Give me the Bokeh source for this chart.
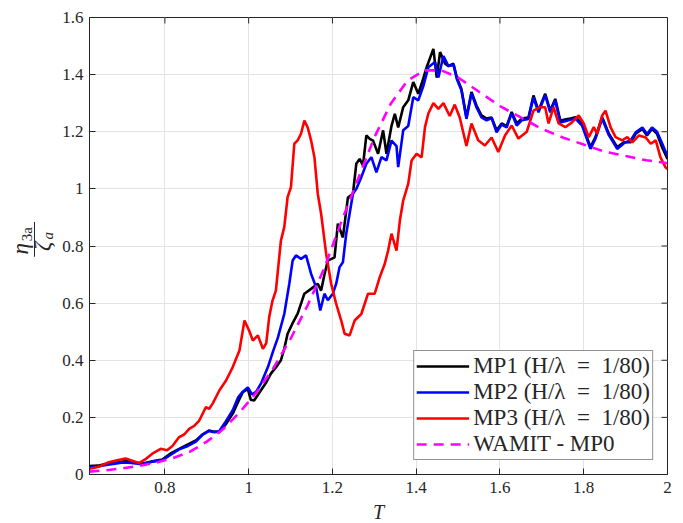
import math
from bokeh.plotting import figure
from bokeh.layouts import row
from bokeh.models import (LinearAxis, FixedTicker, CustomJSTickFormatter, Legend, LegendItem, Range1d)
from bokeh.core.properties import value
from bokeh.embed import file_html
from bokeh.resources import INLINE

# ---------------- data ----------------
t_mp1 = [0.620, 0.640, 0.658, 0.680, 0.706, 0.725, 0.746, 0.770, 0.794, 0.815, 0.834, 0.855, 0.874,
         0.890, 0.905, 0.918, 0.930, 0.945, 0.962, 0.975, 0.986, 0.998, 1.005, 1.013, 1.029, 1.041,
         1.053, 1.065, 1.077, 1.085, 1.093, 1.105, 1.117, 1.133, 1.149, 1.165, 1.173, 1.181, 1.189,
         1.205, 1.213, 1.225, 1.237, 1.249, 1.257, 1.265, 1.273, 1.281, 1.289, 1.297, 1.309, 1.321,
         1.329, 1.341, 1.349, 1.357, 1.369, 1.381, 1.393, 1.405, 1.413, 1.425, 1.441, 1.449, 1.457,
         1.469, 1.477, 1.489, 1.497, 1.508, 1.520, 1.532, 1.544, 1.556, 1.568, 1.580, 1.592, 1.604,
         1.616, 1.628, 1.640, 1.652, 1.668, 1.680, 1.692, 1.708, 1.720, 1.732, 1.744, 1.764, 1.780,
         1.796, 1.816, 1.828, 1.844, 1.860, 1.880, 1.896, 1.912, 1.924, 1.940, 1.951, 1.963, 1.975,
         1.987, 2.000]
v_mp1 = [0.030, 0.031, 0.037, 0.040, 0.047, 0.044, 0.038, 0.046, 0.052, 0.075, 0.090, 0.105, 0.119,
         0.140, 0.154, 0.150, 0.148, 0.175, 0.213, 0.255, 0.288, 0.300, 0.262, 0.259, 0.294, 0.320,
         0.353, 0.375, 0.400, 0.440, 0.493, 0.530, 0.563, 0.633, 0.650, 0.668, 0.644, 0.700, 0.749,
         0.760, 0.878, 0.830, 0.970, 0.983, 1.088, 1.105, 1.082, 1.187, 1.175, 1.169, 1.123, 1.205,
         1.123, 1.220, 1.263, 1.215, 1.286, 1.310, 1.374, 1.333, 1.368, 1.426, 1.490, 1.390, 1.479,
         1.438, 1.430, 1.438, 1.390, 1.350, 1.251, 1.339, 1.292, 1.257, 1.246, 1.250, 1.205, 1.229,
         1.220, 1.269, 1.229, 1.246, 1.250, 1.327, 1.274, 1.333, 1.274, 1.315, 1.239, 1.245, 1.251,
         1.229, 1.146, 1.181, 1.251, 1.193, 1.146, 1.163, 1.163, 1.193, 1.210, 1.187, 1.210, 1.193,
         1.146, 1.105]

t_mp2 = [0.620, 0.640, 0.660, 0.680, 0.700, 0.720, 0.745, 0.770, 0.794, 0.815, 0.834, 0.855, 0.874,
         0.890, 0.905, 0.918, 0.930, 0.945, 0.962, 0.975, 0.986, 0.998, 1.008, 1.018, 1.030, 1.046,
         1.058, 1.070, 1.085, 1.097, 1.105, 1.113, 1.125, 1.137, 1.149, 1.161, 1.171, 1.181, 1.189,
         1.201, 1.209, 1.217, 1.225, 1.233, 1.241, 1.249, 1.257, 1.269, 1.281, 1.293, 1.305, 1.317,
         1.329, 1.341, 1.353, 1.357, 1.369, 1.381, 1.393, 1.405, 1.417, 1.429, 1.445, 1.453, 1.465,
         1.477, 1.489, 1.497, 1.508, 1.520, 1.532, 1.544, 1.556, 1.568, 1.580, 1.592, 1.604, 1.616,
         1.628, 1.640, 1.652, 1.668, 1.680, 1.692, 1.708, 1.720, 1.732, 1.744, 1.764, 1.780, 1.796,
         1.816, 1.828, 1.844, 1.860, 1.880, 1.896, 1.912, 1.924, 1.940, 1.951, 1.963, 1.975, 1.987,
         2.000]
v_mp2 = [0.025, 0.028, 0.033, 0.038, 0.042, 0.040, 0.036, 0.045, 0.050, 0.070, 0.088, 0.100, 0.115,
         0.140, 0.152, 0.148, 0.152, 0.185, 0.225, 0.270, 0.290, 0.305, 0.280, 0.290, 0.320, 0.376,
         0.430, 0.480, 0.562, 0.668, 0.749, 0.767, 0.755, 0.767, 0.703, 0.656, 0.574, 0.633, 0.610,
         0.633, 0.668, 0.726, 0.743, 0.843, 0.913, 0.983, 1.000, 1.041, 1.088, 1.111, 1.058, 1.111,
         1.100, 1.169, 1.150, 1.076, 1.205, 1.220, 1.321, 1.310, 1.360, 1.426, 1.444, 1.390, 1.465,
         1.430, 1.435, 1.385, 1.345, 1.245, 1.335, 1.285, 1.250, 1.240, 1.248, 1.198, 1.225, 1.215,
         1.265, 1.222, 1.240, 1.245, 1.320, 1.268, 1.328, 1.268, 1.310, 1.232, 1.240, 1.246, 1.222,
         1.140, 1.176, 1.246, 1.188, 1.140, 1.160, 1.170, 1.198, 1.215, 1.192, 1.215, 1.200, 1.160,
         1.115]

t_mp3 = [0.620, 0.640, 0.666, 0.686, 0.706, 0.722, 0.738, 0.755, 0.770, 0.790, 0.805, 0.818, 0.834,
         0.846, 0.858, 0.870, 0.882, 0.898, 0.906, 0.914, 0.930, 0.946, 0.962, 0.978, 0.990, 1.001,
         1.010, 1.022, 1.034, 1.042, 1.049, 1.057, 1.065, 1.077, 1.085, 1.093, 1.101, 1.109, 1.117,
         1.125, 1.133, 1.141, 1.149, 1.157, 1.165, 1.173, 1.185, 1.197, 1.209, 1.221, 1.229, 1.241,
         1.253, 1.269, 1.285, 1.301, 1.313, 1.325, 1.333, 1.341, 1.353, 1.361, 1.369, 1.381, 1.389,
         1.401, 1.413, 1.421, 1.429, 1.441, 1.453, 1.465, 1.480, 1.492, 1.504, 1.512, 1.520, 1.532,
         1.548, 1.564, 1.580, 1.596, 1.612, 1.628, 1.644, 1.664, 1.680, 1.696, 1.708, 1.716, 1.728,
         1.740, 1.756, 1.772, 1.788, 1.800, 1.812, 1.824, 1.832, 1.844, 1.852, 1.864, 1.876, 1.892,
         1.904, 1.916, 1.932, 1.948, 1.960, 1.972, 1.983, 1.995, 2.000]
v_mp3 = [0.020, 0.026, 0.043, 0.050, 0.056, 0.048, 0.040, 0.055, 0.073, 0.090, 0.085, 0.100, 0.131,
         0.140, 0.160, 0.170, 0.189, 0.236, 0.230, 0.248, 0.294, 0.329, 0.376, 0.434, 0.539, 0.504,
         0.469, 0.487, 0.440, 0.460, 0.551, 0.609, 0.644, 0.819, 0.866, 0.971, 1.006, 1.158, 1.170,
         1.193, 1.239, 1.215, 1.170, 1.111, 0.983, 0.913, 0.773, 0.668, 0.597, 0.539, 0.493, 0.487,
         0.539, 0.562, 0.633, 0.633, 0.691, 0.738, 0.784, 0.843, 0.784, 0.889, 0.959, 1.018, 1.099,
         1.123, 1.110, 1.216, 1.264, 1.300, 1.280, 1.300, 1.255, 1.295, 1.250, 1.200, 1.150, 1.229,
         1.170, 1.152, 1.180, 1.129, 1.187, 1.222, 1.176, 1.200, 1.274, 1.286, 1.286, 1.229, 1.286,
         1.229, 1.216, 1.233, 1.257, 1.229, 1.181, 1.216, 1.193, 1.257, 1.274, 1.216, 1.181, 1.170,
         1.181, 1.163, 1.187, 1.180, 1.158, 1.170, 1.111, 1.076, 1.070]

t_wamit = [0.62, 0.66, 0.70, 0.74, 0.78, 0.82, 0.86, 0.90, 0.94, 0.98, 1.02, 1.06, 1.10, 1.14, 1.18,
           1.22, 1.26, 1.30, 1.34, 1.38, 1.42, 1.46, 1.50, 1.55, 1.60, 1.65, 1.70, 1.75, 1.80, 1.85,
           1.90, 1.95, 2.00]
v_wamit = [0.010, 0.015, 0.022, 0.030, 0.042, 0.058, 0.080, 0.115, 0.160, 0.220, 0.290, 0.375, 0.475,
           0.590, 0.720, 0.880, 1.030, 1.180, 1.300, 1.380, 1.415, 1.415, 1.390, 1.340, 1.290, 1.250,
           1.210, 1.180, 1.155, 1.130, 1.115, 1.100, 1.090]

x_ticks = [0.8, 1.0, 1.2, 1.4, 1.6, 1.8, 2.0]
y_ticks = [0, 0.2, 0.4, 0.6, 0.8, 1.0, 1.2, 1.4, 1.6]
labels = ["MP1 (H/λ\u2002=\u20021/80)", "MP2 (H/λ\u2002=\u20021/80)",
          "MP3 (H/λ\u2002=\u20021/80)", "WAMIT - MP0"]
x_title = "T"

# ---------------- style ----------------
FONT = "Liberation Serif"
AX = "#262626"
X0, X1, Y0, Y1 = 0.62, 2.0, 0.0, 1.6
STRIP = 58

# ---------------- main figure ----------------
p = figure(frame_width=578, frame_height=457, output_backend="svg", toolbar_location=None,
           x_range=Range1d(X0, X1), y_range=Range1d(Y0, Y1),
           min_border_left=89 - STRIP, min_border_right=16, min_border_top=17, min_border_bottom=49,
           x_axis_location=None, y_axis_location=None)
p.background_fill_color = "white"
p.border_fill_color = "white"
p.outline_line_color = AX
p.outline_line_width = 1

fmt = CustomJSTickFormatter(code="return (Math.round(tick*10)/10).toString();")

def make_axis(ticks):
    ax = LinearAxis(ticker=FixedTicker(ticks=ticks), formatter=fmt)
    ax.axis_line_color = AX
    ax.major_tick_line_color = AX
    ax.major_tick_in = 6
    ax.major_tick_out = 0
    ax.minor_tick_line_color = None
    ax.major_label_text_font = FONT
    ax.major_label_text_font_size = "17px"
    ax.major_label_text_color = AX
    return ax

xb = make_axis(x_ticks)
xb.major_label_standoff = 7
xb.axis_label = x_title
xb.axis_label_text_font = FONT
xb.axis_label_text_font_style = "italic"
xb.axis_label_text_font_size = "20px"
xb.axis_label_text_color = AX
xb.axis_label_standoff = 5
yl = make_axis(y_ticks)
yl.major_label_standoff = 6
p.add_layout(xb, "below")
p.add_layout(yl, "left")

p.xgrid.ticker = FixedTicker(ticks=x_ticks)
p.ygrid.ticker = FixedTicker(ticks=y_ticks)
for g in (p.xgrid, p.ygrid):
    g.grid_line_color = "#e3e3e3"
    g.grid_line_width = 1

# inward ticks on the top and right edges of the box
p.ray(x=x_ticks, y=[Y1] * len(x_ticks), length=6, length_units="screen",
      angle=-math.pi / 2, line_color=AX, line_width=1)
p.ray(x=[X1] * len(y_ticks), y=y_ticks, length=6, length_units="screen",
      angle=math.pi, line_color=AX, line_width=1)

LW = 2.6
r1 = p.line(t_mp1, v_mp1, line_color="#000000", line_width=LW)
r2 = p.line(t_mp2, v_mp2, line_color="#0000ff", line_width=LW)
r3 = p.line(t_mp3, v_mp3, line_color="#ff0000", line_width=LW)
r4 = p.line(t_wamit, v_wamit, line_color="#ff00ff", line_width=LW, line_dash="10 7")

legend = Legend(items=[LegendItem(label=labels[0], renderers=[r1]),
                       LegendItem(label=labels[1], renderers=[r2]),
                       LegendItem(label=labels[2], renderers=[r3]),
                       LegendItem(label=labels[3], renderers=[r4])],
                location="bottom_right")
legend.margin = 14
legend.padding = 2
legend.spacing = 0
legend.glyph_width = 53
legend.glyph_height = 26
legend.label_height = 26
legend.label_standoff = 4
legend.label_text_font = FONT
legend.label_text_font_size = "23px"
legend.label_text_color = AX
legend.label_text_baseline = "middle"
legend.border_line_color = AX
legend.border_line_width = 1
legend.background_fill_color = "white"
legend.background_fill_alpha = 1
p.add_layout(legend)

# ---------------- y-axis label (fraction) in a narrow strip ----------------
q = figure(width=STRIP, height=523, output_backend="svg", toolbar_location=None,
           x_range=Range1d(0, STRIP), y_range=Range1d(523, 0),
           min_border=0, x_axis_location=None, y_axis_location=None)
q.outline_line_color = None
q.xgrid.visible = False
q.ygrid.visible = False
q.background_fill_color = "white"
q.border_fill_color = "white"

ang = math.pi / 2
q.text(x=[20], y=[266], text=["η"], angle=ang, text_font=value(FONT), text_font_style="italic",
       text_font_size="23px", text_align="center", text_baseline="middle", text_color=AX)
q.text(x=[26], y=[249], text=["3a"], angle=ang, text_font=value(FONT),
       text_font_size="15px", text_align="center", text_baseline="middle", text_color=AX)
q.segment(x0=[34], y0=[235], x1=[34], y1=[275], line_color=AX, line_width=1)
q.text(x=[42], y=[263], text=["ζ"], angle=ang, text_font=value(FONT), text_font_style="italic",
       text_font_size="23px", text_align="center", text_baseline="middle", text_color=AX)
q.text(x=[47], y=[251], text=["a"], angle=ang, text_font=value(FONT), text_font_style="italic",
       text_font_size="15px", text_align="center", text_baseline="middle", text_color=AX)

layout = row(q, p, spacing=0)
open("out.html", "w").write(file_html(layout, INLINE))
